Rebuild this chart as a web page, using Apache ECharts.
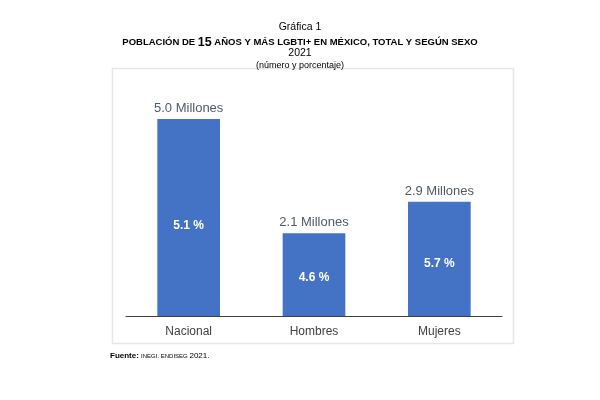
<!DOCTYPE html>
<html>
<head>
<meta charset="utf-8">
<script src="https://cdn.jsdelivr.net/npm/echarts@6/dist/echarts.min.js"></script>
<style>
  html, body { margin: 0; padding: 0; background: #fff; }
  #main { width: 600px; height: 400px; }
</style>
</head>
<body>
<div id="main"></div>
<script>
var main = echarts.init(document.getElementById('main'));

// datos de la gráfica
var categorias = ['Nacional', 'Hombres', 'Mujeres'];
var millones = [5.0, 2.1, 2.9];
var porcentaje = [5.1, 4.6, 5.7];

var fuente = "'Liberation Sans', Arial, sans-serif";

var option = {
	backgroundColor: '#fff',
	animation: false,
	title: [{
		text: 'Gráfica 1',
		left: 'center',
		top: 17,
		textStyle: { fontSize: 10.5, fontWeight: 'normal', color: '#000', fontFamily: fuente }
	}, {
		text: '{b|POBLACIÓN DE }{n|15}{b| AÑOS Y MÁS LGBTI+ EN MÉXICO, TOTAL Y SEGÚN SEXO}',
		left: 'center',
		top: 31,
		textStyle: {
			rich: {
				b: { fontSize: 9.5, fontWeight: 'bold', color: '#000', fontFamily: fuente },
				n: { fontSize: 12.5, fontWeight: 'bold', color: '#000', fontFamily: fuente }
			}
		}
	}, {
		text: '2021',
		left: 'center',
		top: 43,
		textStyle: { fontSize: 10.5, fontWeight: 'normal', color: '#000', fontFamily: fuente }
	}, {
		text: '(número y porcentaje)',
		left: 'center',
		top: 56,
		textStyle: { fontSize: 9, fontWeight: 'normal', color: '#000', fontFamily: fuente }
	}],
	graphic: [{
		type: 'rect',
		z: -1,
		shape: { x: 112.5, y: 68.5, width: 401, height: 275 },
		style: { fill: '#fff', stroke: '#e6e6e6', lineWidth: 1.5 }
	}, {
		type: 'text',
		left: 110,
		top: 352,
		style: {
			text: '{b|Fuente: }{s|INEGI. ENDISEG }{n|2021.}',
			rich: {
				b: { fontSize: 8, fontWeight: 'bold', fill: '#000', fontFamily: fuente },
				s: { fontSize: 6, fill: '#000', fontFamily: fuente },
				n: { fontSize: 8, fill: '#000', fontFamily: fuente }
			}
		}
	}],
	grid: { left: 126, right: 98, top: 119, bottom: 84 },
	xAxis: {
		type: 'category',
		data: categorias,
		axisLine: { lineStyle: { color: '#404040', width: 1 } },
		axisTick: { show: false },
		axisLabel: { fontSize: 12, color: '#404040', margin: 10, fontFamily: fuente }
	},
	yAxis: {
		type: 'value',
		min: 0,
		max: 5,
		show: false,
		splitLine: { show: false }
	},
	series: [{
		name: 'Millones',
		type: 'bar',
		data: millones,
		barWidth: '50%',
		itemStyle: { color: '#4472C4' },
		label: {
			show: true,
			position: 'top',
			distance: 4,
			fontSize: 13,
			color: '#505a68',
			fontFamily: fuente,
			formatter: function (p) { return p.value.toFixed(1) + ' Millones'; }
		}
	}, {
		name: 'Porcentaje',
		type: 'bar',
		data: millones,
		barWidth: '50%',
		barGap: '-100%',
		itemStyle: { color: 'rgba(0,0,0,0)' },
		label: {
			show: true,
			position: ['50%', '54%'],
			align: 'center',
			verticalAlign: 'middle',
			fontSize: 12,
			fontWeight: 'bold',
			color: '#fff',
			fontFamily: fuente,
			formatter: function (p) { return porcentaje[p.dataIndex].toFixed(1) + ' %'; }
		}
	}]
};
main.setOption(option);
</script>
</body>
</html>
